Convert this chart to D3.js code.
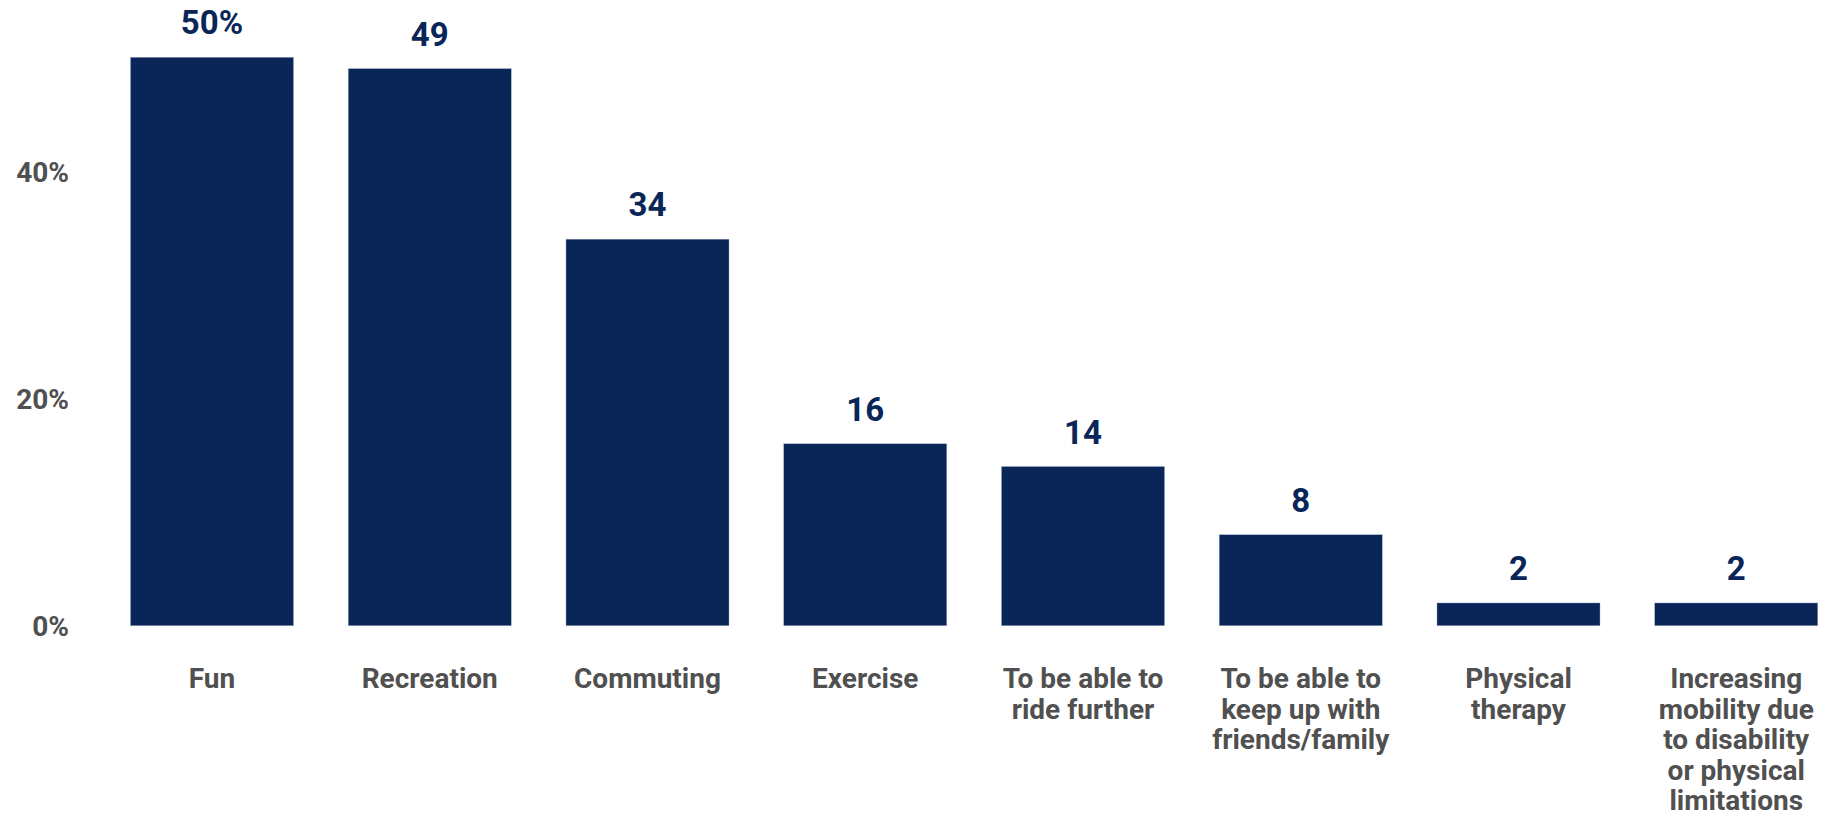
<!DOCTYPE html>
<html>
<head>
<meta charset="utf-8">
<script src="https://cdn.jsdelivr.net/npm/d3@7"></script>
<style>
  html, body { margin: 0; padding: 0; background: #ffffff; }
  svg { display: block; }
</style>
</head>
<body>
<svg id="chart" width="1833" height="817"></svg>
<script>
// Reasons for riding, share of respondents (%)
const categories = [
  "Fun",
  "Recreation",
  "Commuting",
  "Exercise",
  "To be able to ride further",
  "To be able to keep up with friends/family",
  "Physical therapy",
  "Increasing mobility due to disability or physical limitations"
];
const categoryLines = [
  ["Fun"],
  ["Recreation"],
  ["Commuting"],
  ["Exercise"],
  ["To be able to", "ride further"],
  ["To be able to", "keep up with", "friends/family"],
  ["Physical", "therapy"],
  ["Increasing", "mobility due", "to disability", "or physical", "limitations"]
];
const values = [50, 49, 34, 16, 14, 8, 2, 2];
const yTicks = [0, 20, 40];

const svg = d3.select("#chart");
const barColor = "#0a2659";
const textGray = "#505050";
const fontFamily = "Roboto, 'DejaVu Sans', sans-serif";

const x = d3.scaleBand()
  .domain(categories)
  .range([130.5, 1817.75])
  .paddingInner(0.2514)
  .paddingOuter(0);

const y = d3.scaleLinear()
  .domain([0, 50])
  .range([625.7, 57.3]);

// y-axis tick labels
const yAxis = d3.axisLeft(y)
  .tickValues(yTicks)
  .tickFormat(d => d + "%")
  .tickSize(0)
  .tickPadding(0);

const yAxisG = svg.append("g")
  .attr("transform", "translate(69,0)")
  .call(yAxis);
yAxisG.select(".domain").remove();
yAxisG.selectAll("text")
  .attr("fill", textGray)
  .attr("font-family", fontFamily)
  .attr("font-weight", 700)
  .attr("font-size", 28)
  .attr("dy", "0.36em");

// bars
svg.append("g")
  .selectAll("rect")
  .data(values)
  .join("rect")
  .attr("x", (d, i) => x(categories[i]))
  .attr("width", x.bandwidth())
  .attr("y", d => y(d))
  .attr("height", d => y(0) - y(d))
  .attr("fill", barColor)
  .attr("stroke", "#9aa7c0")
  .attr("stroke-width", 0.4);

// value labels above bars
svg.append("g")
  .selectAll("text")
  .data(values)
  .join("text")
  .attr("x", (d, i) => x(categories[i]) + x.bandwidth() / 2)
  .attr("y", d => y(d) - 23)
  .attr("text-anchor", "middle")
  .attr("fill", barColor)
  .attr("font-family", fontFamily)
  .attr("font-weight", 700)
  .attr("font-size", 33)
  .text((d, i) => i === 0 ? d + "%" : d);

// category labels, wrapped onto several lines
const xLabels = svg.append("g")
  .selectAll("text")
  .data(categoryLines)
  .join("text")
  .attr("x", (d, i) => x(categories[i]) + x.bandwidth() / 2)
  .attr("y", 688)
  .attr("text-anchor", "middle")
  .attr("fill", textGray)
  .attr("font-family", fontFamily)
  .attr("font-weight", 700)
  .attr("font-size", 28);

xLabels.each(function(lines, i) {
  const t = d3.select(this);
  const cx = x(categories[i]) + x.bandwidth() / 2;
  lines.forEach((line, j) => {
    t.append("tspan")
      .attr("x", cx)
      .attr("dy", j === 0 ? 0 : 30.6)
      .text(line);
  });
});
</script>
</body>
</html>
